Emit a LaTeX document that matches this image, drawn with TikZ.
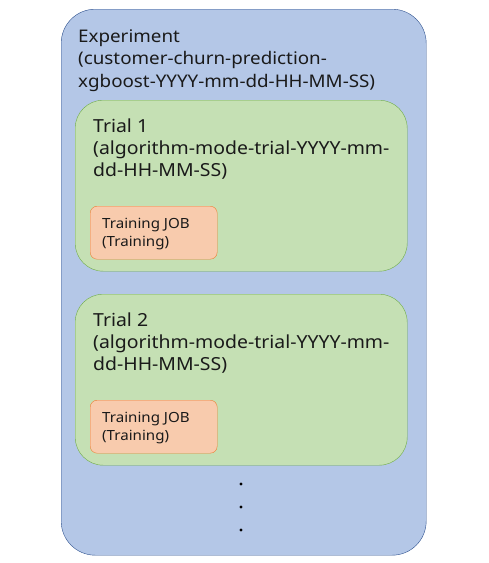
\documentclass[tikz,border=0pt]{standalone}
\usepackage{fontspec}
\setmainfont[FakeStretch=1.08]{Noto Sans}
\definecolor{expfill}{HTML}{B4C7E7}
\definecolor{expline}{HTML}{2F528F}
\definecolor{trialfill}{HTML}{C5E0B4}
\definecolor{trialline}{HTML}{70AD47}
\definecolor{jobfill}{HTML}{F8CBAD}
\definecolor{jobline}{HTML}{ED7D31}
\definecolor{txt}{HTML}{1A1A1A}
\begin{document}
\begin{tikzpicture}[x=1pt,y=-1pt,
    every node/.style={text=txt},
    expbox/.style={draw=expline,fill=expfill,rounded corners=34pt,anchor=north west,inner sep=0},
    trialbox/.style={draw=trialline,fill=trialfill,rounded corners=28pt,anchor=north west,inner sep=0,
        minimum width=332pt,minimum height=171pt},
    jobbox/.style={draw=jobline,fill=jobfill,rounded corners=7pt,anchor=north west,inner sep=0,
        minimum width=127pt,minimum height=53pt},
    exptext/.style={anchor=north west,align=left,inner sep=0,font=\fontsize{17.4}{22.5}\selectfont},
    trialtext/.style={anchor=north west,align=left,inner sep=0,font=\fontsize{18}{22}\selectfont},
    jobtext/.style={anchor=north west,align=left,inner sep=0,font=\fontsize{14}{17.5}\selectfont}]
    \useasboundingbox (0,0) rectangle (488,563);
    % experiment
    \node[expbox,minimum width=365pt,minimum height=546pt] (exp) at (61,9) {};
    \node[exptext] (expname) at (78,29)
        {Experiment\\(customer-churn-prediction-\\xgboost-YYYY-mm-dd-HH-MM-SS)};
    % trials
    \foreach \i/\y in {1/100,2/294} {
        \node[trialbox] (trial\i) at (75,\y) {};
        \node[trialtext] (trialname\i) at (93,\y+19)
            {Trial \i\\(algorithm-mode-trial-YYYY-mm-\\dd-HH-MM-SS)};
        \node[jobbox] (job\i) at (90,\y+106) {};
        \node[jobtext] (jobname\i) at (102,\y+118) {Training JOB\\(Training)};
    }
    % more trials
    \foreach \d in {484,507,530}
        \fill[black] (241,\d) circle (1.6pt);
\end{tikzpicture}
\end{document}
